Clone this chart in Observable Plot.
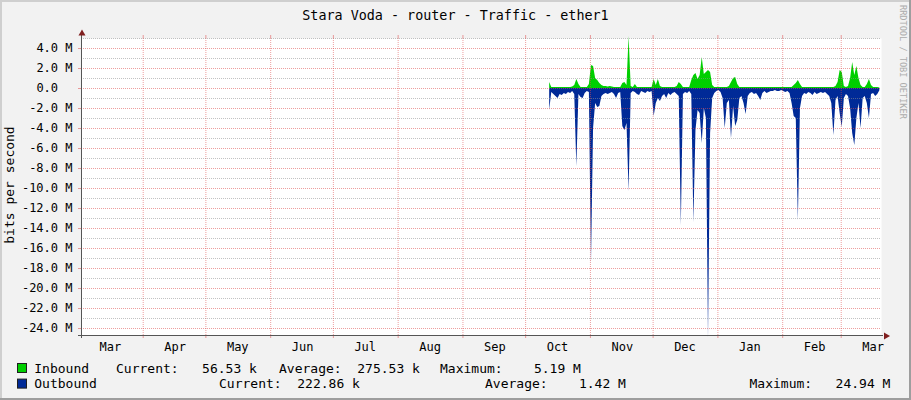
<!DOCTYPE html>
<html>
<head>
<meta charset="utf-8">
<script src="https://cdn.jsdelivr.net/npm/d3@7"></script>
<script src="https://cdn.jsdelivr.net/npm/@observablehq/plot@0.6"></script>
<style>
  html, body { margin:0; padding:0; background:#f2f2f2; }
  #wrap { position:relative; width:911px; height:400px; background:#f2f2f2; overflow:hidden; }
  #wrap > svg { position:absolute; left:0; top:0; }
  .edge { position:absolute; z-index:5; }
</style>
</head>
<body>
<div id="wrap">
  <div class="edge" style="left:0;top:0;width:911px;height:2px;background:#cfcfcf"></div>
  <div class="edge" style="left:0;top:0;width:2px;height:400px;background:#cfcfcf"></div>
  <div class="edge" style="right:0;top:0;width:2px;height:400px;background:#9e9e9e"></div>
  <div class="edge" style="left:0;bottom:0;width:911px;height:2px;background:#9e9e9e"></div>
</div>
<script>
// ---------- texts ----------
const title = "Stara Voda - router - Traffic - ether1";
const yTitle = "bits per second";
const credit = "RRDTOOL / TOBI OETIKER";
const seriesNames = ["Inbound", "Outbound"];
const seriesColors = ["#00cf00", "#002a97"];
const inboundStats = ["Current:   56.53 k", "Average:  275.53 k", "Maximum:    5.19 M"];
const outboundStats = ["Current:  222.86 k", "Average:    1.42 M", "Maximum:   24.94 M"];

// ---------- axes ----------
const yMajorTicks = [4, 2, 0, -2, -4, -6, -8, -10, -12, -14, -16, -18, -20, -22, -24];
const yMinorTicks = [5, 3, 1, -1, -3, -5, -7, -9, -11, -13, -15, -17, -19, -21, -23];
const monthStarts = ["2014-04-01","2014-05-01","2014-06-01","2014-07-01","2014-08-01","2014-09-01",
                     "2014-10-01","2014-11-01","2014-12-01","2015-01-01","2015-02-01","2015-03-01"];
const monthLabelDates = ["2014-03-16","2014-04-16","2014-05-16","2014-06-16","2014-07-16","2014-08-16",
                         "2014-09-16","2014-10-16","2014-11-16","2014-12-16","2015-01-16","2015-02-16","2015-03-16"];
const monthLabels = ["Mar","Apr","May","Jun","Jul","Aug","Sep","Oct","Nov","Dec","Jan","Feb","Mar"];
const timeStart = "2014-03-02T11:30:00Z";
const timeEnd = "2015-03-20T06:43:00Z";

// ---------- data: daily averages in Mbit/s, starting at firstDay ----------
const firstDay = "2014-10-12";
const inboundM = [
  0.6, 0.1, 0.1, 0.1, 0.1, 0.1, 0.1, 0.1, 0.1, 0.1,
  0.1, 0.15, 0.3, 0.9, 0.4, 0.1, 0.1, 0.1, 0.1, 0.4,
  2.3, 2.2, 1.0, 0.8, 0.5, 0.3, 0.2, 0.2, 0.15, 0.2,
  0.15, 0.1, 0.1, 0.1, 0.1, 0.5, 0.6, 0.3, 5.19, 0.2,
  0.1, 0.4, 0.1, 0.1, 0.1, 0.1, 0.1, 0.1, 0.1, 0.1,
  0.9, 0.3, 0.9, 0.2, 0.1, 0.1, 0.1, 0.1, 0.1, 0.1,
  0.1, 0.2, 0.6, 0.4, 0.1, 0.1, 0.1, 0.1, 0.8, 1.3,
  1.5, 0.9, 1.3, 3.1, 1.4, 1.6, 1.8, 1.6, 0.3, 0.1,
  0.1, 0.1, 0.1, 0.1, 0.1, 0.1, 0.2, 0.6, 1.0, 1.1,
  0.4, 0.1, 0.1, 0.1, 0.1, 0.1, 0.1, 0.1, 0.1, 0.1,
  0.1, 0.1, 0.1, 0.1, 0.1, 0.1, 0.1, 0.1, 0.1, 0.1,
  0.1, 0.1, 0.1, 0.1, 0.1, 0.1, 0.1, 0.3, 0.5, 0.8,
  0.4, 0.1, 0.1, 0.1, 0.1, 0.1, 0.1, 0.1, 0.1, 0.1,
  0.1, 0.1, 0.1, 0.1, 0.1, 0.1, 0.1, 0.2, 0.6, 1.8,
  1.6, 0.2, 0.1, 0.2, 1.0, 2.6, 1.3, 2.2, 1.0, 0.3,
  0.1, 0.1, 0.4, 0.9, 0.3, 0.1, 0.1, 0.1, 0.06
];
const outboundM = [
  2.2, 0.4, 0.6, 0.8, 1.0, 0.6, 0.7, 0.5, 0.6, 0.4,
  0.5, 0.3, 0.6, 7.8, 0.6, 0.9, 1.0, 0.5, 0.3, 0.4,
  17.5, 4.0, 1.5, 1.9, 1.8, 0.8, 0.6, 0.5, 0.6, 0.5,
  0.4, 0.6, 1.0, 0.5, 0.4, 3.8, 4.2, 3.5, 10.3, 0.5,
  0.3, 0.4, 0.6, 0.7, 0.3, 0.4, 0.5, 0.3, 0.4, 0.3,
  2.8, 1.5, 1.0, 1.3, 0.8, 0.6, 1.0, 0.5, 0.7, 0.5,
  0.4, 0.6, 0.8, 13.7, 0.6, 0.4, 0.5, 0.3, 0.6, 13.4,
  4.2, 2.2, 2.5, 5.5, 2.0, 3.0, 24.94, 4.5, 1.0, 0.5,
  0.3, 0.2, 0.4, 1.0, 4.0, 1.5, 1.2, 5.0, 1.8, 3.8,
  3.2, 1.0, 0.8, 1.5, 2.6, 0.8, 0.5, 0.4, 0.6, 0.5,
  0.8, 1.2, 0.5, 0.3, 0.5, 0.4, 0.3, 0.3, 0.2, 0.3,
  0.3, 0.2, 0.3, 0.4, 0.3, 0.5, 1.5, 2.8, 3.0, 13.2,
  2.0, 0.8, 0.5, 0.6, 0.4, 0.5, 0.7, 0.4, 0.6, 0.5,
  0.4, 0.5, 0.4, 0.6, 0.8, 1.5, 4.7, 1.2, 0.8, 2.5,
  3.9, 1.0, 0.6, 0.8, 2.0, 4.5, 5.7, 3.0, 1.5, 4.0,
  1.0, 0.8, 1.5, 3.0, 0.6, 0.5, 0.8, 0.6, 0.22
];

// ---------- build ----------
const day0 = new Date(firstDay + "T12:00:00Z");
const rows = inboundM.map((v, i) => ({
  t: new Date(+day0 + i * 864e5),
  inb: v,
  out: -outboundM[i]
}));
const monthStartDates = monthStarts.map(s => new Date(s + "T00:00:00Z"));
const labelRows = monthLabelDates.map((s, i) => ({t: new Date(s + "T06:00:00Z"), label: monthLabels[i]}));
const xDomain = [new Date(timeStart), new Date(timeEnd)];
const yDomain = [-24.7, 5];

const red = "#de4f4f", grey = "#8f8f8f", axisColor = "#555", arrowColor = "#801f1f";
const fmtY = v => v === 0 ? "0.0\u00a0\u00a0" : v.toFixed(1) + " M";

const chart = Plot.plot({
  width: 911, height: 400,
  marginLeft: 81, marginRight: 30, marginTop: 38, marginBottom: 65,
  style: {background: "transparent", fontFamily: "'DejaVu Sans Mono', monospace", fontSize: "12px", color: "#000", overflow: "visible"},
  x: {type: "utc", domain: xDomain, label: null, axis: null},
  y: {domain: yDomain, label: null},
  marks: [
    Plot.frame({fill: "#fff", stroke: null}),
    Plot.areaY(rows, {x: "t", y: "inb", fill: seriesColors[0]}),
    Plot.areaY(rows, {x: "t", y: "out", fill: seriesColors[1]}),
    Plot.gridY(yMinorTicks, {stroke: grey, strokeOpacity: 0.55, strokeDasharray: "1,1"}),
    Plot.gridY(yMajorTicks, {stroke: red, strokeOpacity: 0.55, strokeDasharray: "1,1"}),
    Plot.gridX(monthStartDates, {stroke: red, strokeOpacity: 0.55, strokeDasharray: "1,1"}),
    Plot.ruleX(monthStartDates, {y1: yDomain[0], y2: yDomain[0], insetBottom: -3, stroke: red, strokeOpacity: 0.55}),
    Plot.ruleX(monthStartDates, {y1: yDomain[1], y2: yDomain[1], insetTop: -3, stroke: red, strokeOpacity: 0.55}),
    Plot.axisY(yMajorTicks, {anchor: "left", tickSize: 3, tickPadding: 6, tickFormat: fmtY,
      color: "#000", stroke: red, strokeOpacity: 0.55, label: null}),
    Plot.text(labelRows, {x: "t", text: "label", frameAnchor: "bottom", lineAnchor: "bottom", dy: 15.7, fill: "#000"}),
    Plot.ruleY([yDomain[0]], {stroke: axisColor, insetLeft: -3, insetRight: -2}),
    Plot.ruleX([xDomain[0]], {stroke: axisColor, insetTop: -4, insetBottom: -3}),
    Plot.dot([xDomain[1]], {x: d => d, y: () => yDomain[0], symbol: "triangle", r: 2.6, rotate: 90, fill: arrowColor, stroke: null, dx: 4.5, dy: 0.5}),
    Plot.dot([xDomain[0]], {x: d => d, y: () => yDomain[1], symbol: "triangle", r: 2.6, fill: arrowColor, stroke: null, dx: 0.5, dy: -5})
  ]
});
const wrap = document.getElementById("wrap");
wrap.appendChild(chart);

// ---------- title, labels, legend ----------
const ov = d3.select(wrap).append("svg")
  .attr("width", 911).attr("height", 400)
  .style("font-family", "'DejaVu Sans Mono', monospace");

ov.append("text").attr("x", 455.5).attr("y", 19.5).attr("text-anchor", "middle")
  .attr("font-size", 13.4).attr("fill", "#000").text(title);

ov.append("text").attr("transform", "translate(13.5,185) rotate(-90)").attr("text-anchor", "middle")
  .attr("font-size", 13).attr("fill", "#000").text(yTitle);

ov.append("text").attr("transform", "translate(900,5) rotate(90)")
  .attr("font-size", 8.6).attr("fill", "#acacac").text(credit);

const legendY = [372.7, 388.3];
const statX = [[116, 279, 440], [219, 485, 749.5]];
const stats = [inboundStats, outboundStats];
seriesNames.forEach((name, i) => {
  ov.append("rect").attr("x", 17.5).attr("y", legendY[i] - 9.2).attr("width", 9).attr("height", 9)
    .attr("fill", seriesColors[i]).attr("stroke", "#1f1f1f");
  ov.append("text").attr("x", 34.3).attr("y", legendY[i]).attr("font-size", 13).attr("fill", "#000").text(name);
  stats[i].forEach((s, j) => {
    ov.append("text").attr("x", statX[i][j]).attr("y", legendY[i]).attr("font-size", 13)
      .attr("fill", "#000").attr("xml:space", "preserve").style("white-space", "pre").text(s);
  });
});
</script>
</body>
</html>
